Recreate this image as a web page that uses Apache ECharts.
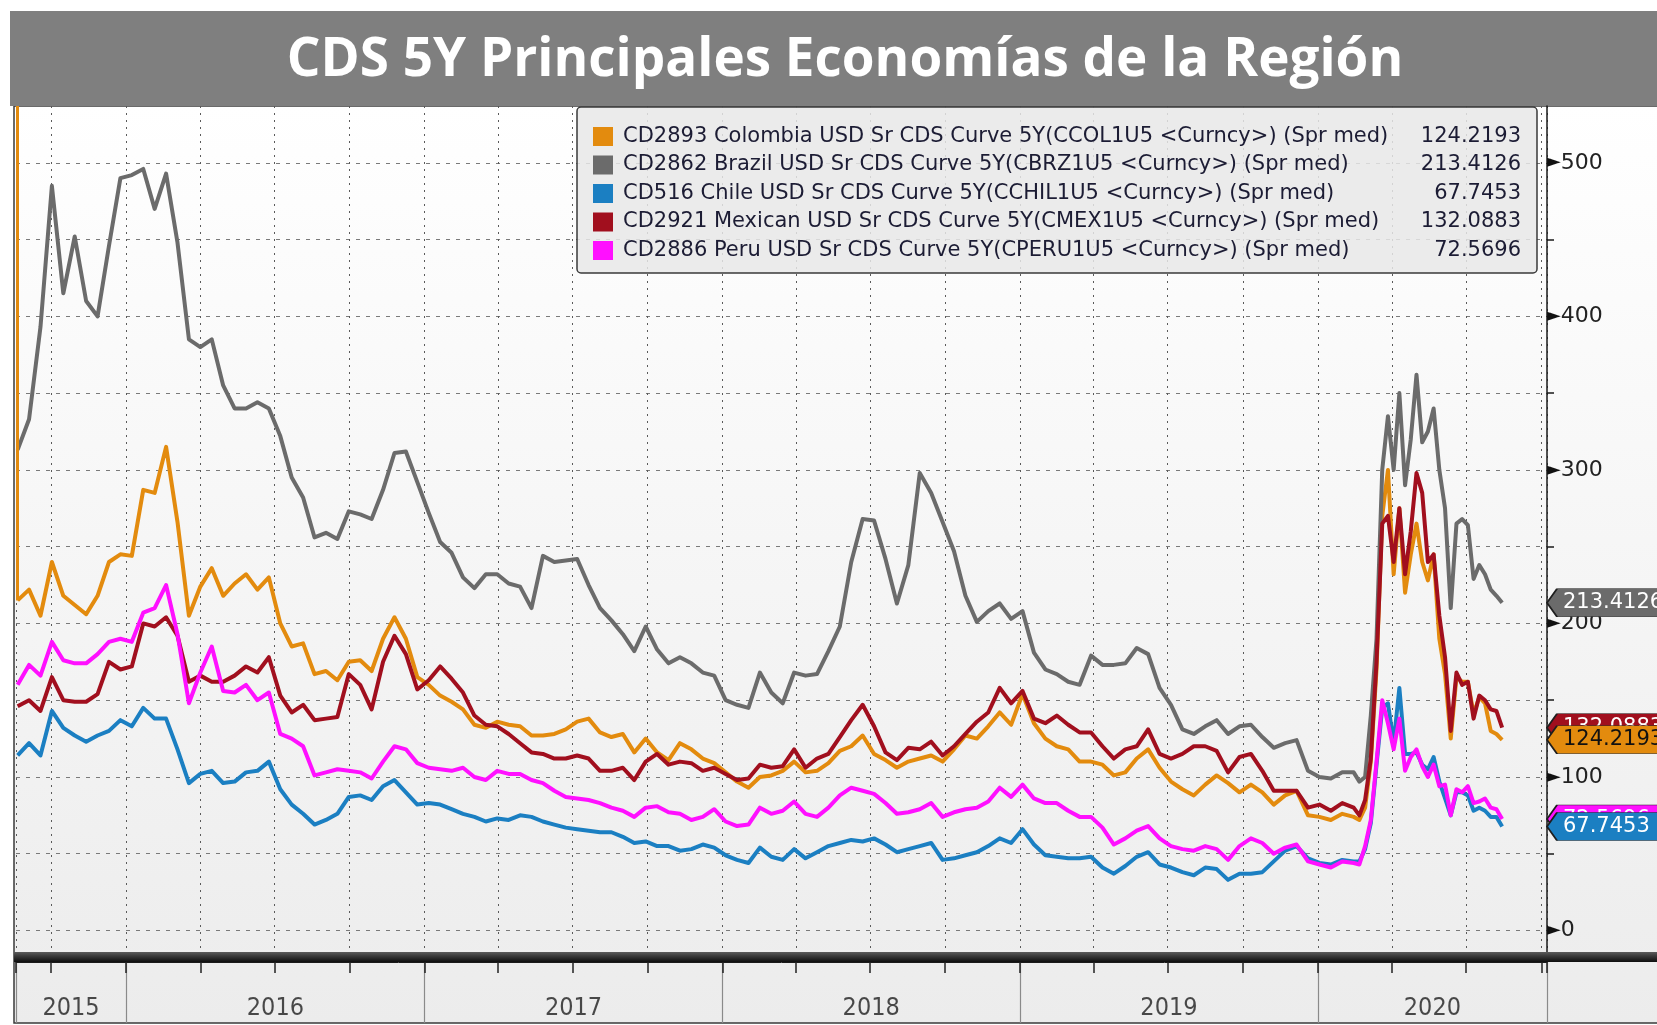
<!DOCTYPE html>
<html>
<head>
<meta charset="utf-8">
<title>CDS 5Y Principales Economías de la Región</title>
<script src="https://cdn.jsdelivr.net/npm/echarts@6/dist/echarts.min.js"></script>
<style>
  html, body { margin: 0; padding: 0; background: #ffffff; }
  #chart { width: 1657px; height: 1025px; }
</style>
</head>
<body>
<div id="chart"></div>
<script>
'use strict';

var DAY = 86400000;
var X_MIN = Date.UTC(2015, 7, 19);
var X_MAX = Date.UTC(2020, 9, 8);
var Y_MIN = -14;
var Y_MAX = 537;

// fechas: cada 2 semanas hasta feb-2020, luego semanal
var dates = [];
var t = Date.UTC(2015, 7, 21);
for (var i = 0; i < 118; i++) { dates.push(t); t += 14 * DAY; }
t = dates[117] + 7 * DAY;
for (var k = 0; k < 26; k++) { dates.push(t); t += 7 * DAY; }

var names = [
  'CD2893 Colombia USD Sr CDS Curve 5Y(CCOL1U5 <Curncy>) (Spr med)',
  'CD2862 Brazil USD Sr CDS Curve 5Y(CBRZ1U5 <Curncy>) (Spr med)',
  'CD516 Chile USD Sr CDS Curve 5Y(CCHIL1U5 <Curncy>) (Spr med)',
  'CD2921 Mexican USD Sr CDS Curve 5Y(CMEX1U5 <Curncy>) (Spr med)',
  'CD2886 Peru USD Sr CDS Curve 5Y(CPERU1U5 <Curncy>) (Spr med)'
];
var colors = ['#e38b0e', '#6b6b6b', '#1b7fc2', '#a10f1e', '#ff10ff'];

var colombia = [
  215, 222, 205, 240, 218, 212, 206, 218, 240, 245, 244, 287, 285, 315, 266, 205, 224, 236, 218, 226, 232, 222, 230,
  200, 185, 187, 167, 169, 163, 175, 176, 169, 190, 204, 190, 165, 160, 153, 149, 144, 134, 132, 136, 134, 133,
  127, 127, 128, 131, 136, 138, 129, 126, 128, 116, 125, 116, 111, 122, 118, 112, 109, 103, 97, 93, 100, 101,
  104, 110, 103, 104, 109, 117, 120, 127, 115, 111, 106, 110, 112, 114, 110, 118, 127, 125, 133, 142, 134, 154, 135,
  125, 120, 118, 110, 110, 108, 101, 103, 112, 118, 106, 97, 92, 88, 95, 101, 96, 90, 95, 90, 82, 88,
  91, 75, 74, 72, 76, 74,
  72, 80, 110, 170, 270, 300, 232, 275, 220, 245, 265, 240, 228, 245, 190, 167, 125, 165, 162, 162, 141, 152, 148, 130, 128, 124.2193
];
var brazil = [
  313, 333, 393, 485, 415, 452, 410, 400, 446, 490, 492, 496, 470, 493, 448, 385, 380, 385, 355, 340, 340, 344, 340,
  322, 295, 282, 256, 259, 255, 273, 271, 268, 287, 311, 312, 292, 272, 253, 246, 230, 223, 232, 232, 226, 224,
  210, 244, 240, 241, 242, 225, 210, 202, 193, 182, 198, 183, 174, 178, 174, 168, 166, 150, 147, 145, 168, 155,
  148, 168, 166, 167, 182, 198, 240, 268, 267, 242, 213, 238, 298, 285, 266, 247, 218, 201, 208, 213, 203, 208, 181,
  170, 167, 162, 160, 179, 173, 173, 174, 184, 180, 158, 147, 131, 128, 133, 137, 128, 133, 134, 126, 119, 122,
  124, 104, 100, 99, 103, 103,
  97, 100, 140, 190, 300, 335, 300, 350, 290, 320, 362, 318, 325, 340, 300, 275, 210, 265, 268, 264, 229, 238, 232, 222, 218, 213.4126
];
var chile = [
  114, 122, 114, 143, 132, 127, 123, 127, 130, 137, 133, 145, 138, 138, 118, 96, 102, 104, 96, 97, 103, 104, 110,
  92, 82, 76, 69, 72, 76, 87, 88, 85, 94, 98, 90, 82, 83, 82, 79, 76, 74, 71, 73, 72, 75,
  74, 71, 69, 67, 66, 65, 64, 64, 61, 57, 58, 55, 55, 52, 53, 56, 54, 49, 46, 44, 54, 48,
  46, 53, 47, 51, 55, 57, 59, 58, 60, 56, 51, 53, 55, 57, 46, 47, 49, 51, 55, 60, 57, 66, 56,
  49, 48, 47, 47, 48, 41, 37, 42, 48, 51, 43, 41, 38, 36, 41, 40, 33, 37, 37, 38, 45, 52,
  55, 47, 44, 43, 46, 45,
  45, 53, 70, 108, 145, 148, 122, 158, 115, 115, 116, 108, 105, 113, 97, 86, 75, 90, 90, 88, 78, 80, 78, 74, 74, 67.7453
];
var mexico = [
  146, 150, 143, 165, 150, 149, 149, 154, 175, 170, 172, 200, 198, 204, 192, 162, 166, 162, 162, 166, 172, 168, 178,
  153, 142, 147, 137, 138, 139, 167, 160, 144, 175, 192, 180, 157, 163, 172, 164, 155, 140, 134, 133, 128, 122,
  116, 115, 112, 112, 114, 112, 104, 104, 106, 98, 110, 115, 108, 110, 109, 104, 106, 102, 98, 99, 108, 106,
  107, 118, 106, 112, 115, 126, 137, 147, 133, 116, 111, 119, 118, 123, 114, 120, 128, 136, 142, 158, 148, 156, 138,
  135, 140, 134, 129, 129, 120, 112, 118, 120, 131, 115, 112, 115, 120, 120, 117, 103, 113, 115, 104, 91, 91,
  91, 80, 82, 78, 83, 80,
  75, 85, 112, 175, 265, 270, 240, 275, 232, 260, 298, 285, 240, 245, 205, 178, 130, 168, 160, 162, 138, 153, 150, 144, 143, 132.0883
];
var peru = [
  160, 173, 166, 188, 176, 174, 174, 180, 188, 190, 188, 207, 210, 225, 193, 148, 168, 185, 156, 155, 160, 150, 155,
  128, 125, 120, 101, 103, 105, 104, 103, 99, 110, 120, 118, 109, 106, 105, 104, 106, 100, 98, 104, 102, 102,
  98, 96, 91, 87, 86, 85, 83, 80, 78, 74, 80, 81, 77, 76, 72, 74, 79, 71, 68, 69, 80, 76,
  78, 84, 76, 74, 80, 88, 93, 91, 89, 83, 76, 77, 79, 83, 74, 77, 79, 80, 84, 93, 87, 95, 86,
  83, 83, 78, 74, 74, 67, 56, 60, 65, 68, 60, 55, 53, 52, 55, 53, 46, 55, 60, 57, 50, 54,
  56, 45, 43, 41, 45, 44,
  43, 55, 72, 110, 150, 135, 118, 138, 104, 113, 118, 107, 100, 108, 94, 95, 75, 92, 90, 94, 83, 84, 86, 80, 79, 72.5696
];

var yTicks = [0, 50, 100, 150, 200, 250, 300, 350, 400, 450, 500];
var yLabels = [0, 100, 200, 300, 400, 500];
var years = ['2015', '2016', '2017', '2018', '2019', '2020'];

var seriesValues = [colombia, brazil, chile, mexico, peru];
var tagTextColor = ['#111111', '#ffffff', '#ffffff', '#ffffff', '#ffffff'];
var tagZ = [9, 9, 9, 8, 8];
var TAG = 'path://M0,14L10,0L130,0L130,28L10,28Z';

function lastOf(arr) { return arr[arr.length - 1]; }

// etiquetas de año centradas en el tramo visible de cada año
var yearMid = years.map(function (y) {
  var a = Math.max(Date.UTC(+y, 0, 1), X_MIN);
  var b = Math.min(Date.UTC(+y + 1, 0, 1), X_MAX);
  return [(a + b) / 2, 0.23];
});

var chartDom = document.getElementById('chart');
var myChart = echarts.init(chartDom, null, {renderer: 'canvas'});

var series = names.map(function (name, idx) {
  var vals = seriesValues[idx];
  var s = {
    name: name,
    type: 'line',
    xAxisIndex: 0,
    yAxisIndex: 0,
    showSymbol: false,
    symbol: 'none',
    color: colors[idx],
    lineStyle: {width: 4, color: colors[idx], join: 'round'},
    data: dates.map(function (d, i) { return [d, vals[i]]; }),
    markPoint: {
      silent: true,
      z: tagZ[idx],
      symbol: TAG,
      symbolSize: [130, 28],
      symbolOffset: [65, 0],
      symbolKeepAspect: false,
      itemStyle: {color: colors[idx], borderColor: '#1e1e1e', borderWidth: 1},
      label: {
        show: true,
        position: 'insideLeft',
        distance: 17,
        color: tagTextColor[idx],
        fontFamily: 'DejaVu Sans',
        fontSize: 21,
        formatter: lastOf(vals).toFixed(4)
      },
      data: [{coord: [X_MAX, lastOf(vals)]}]
    }
  };
  if (idx === 0) {
    s.markLine = {
      silent: true,
      symbol: ['none', 'none'],
      label: {show: false},
      lineStyle: {color: colors[0], width: 3, type: 'solid'},
      data: [[{coord: [dates[0], vals[0]]}, {coord: [dates[0], Y_MAX]}]]
    };
  }
  return s;
});

series.push({
  type: 'scatter',
  xAxisIndex: 1,
  yAxisIndex: 1,
  silent: true,
  symbolSize: 1,
  itemStyle: {color: 'rgba(0,0,0,0)'},
  label: {
    show: true,
    position: 'inside',
    color: '#1e1e1e',
    fontFamily: "'DejaVu Sans Condensed', sans-serif",
    fontSize: 25,
    formatter: function (p) { return years[p.dataIndex]; }
  },
  data: yearMid
});

var option = {
  animation: false,
  title: {
    text: 'CDS 5Y Principales Economías de la Región',
    left: 840,
    textAlign: 'center',
    top: 29,
    textStyle: {
      color: '#ffffff',
      fontFamily: "'Open Sans', sans-serif",
      fontWeight: 'bold',
      fontSize: 53
    }
  },
  graphic: [
    {
      type: 'rect', z: -10, silent: true,
      shape: {x: 14, y: 106, width: 1650, height: 917},
      style: {
        fill: new echarts.graphic.LinearGradient(0, 0, 0, 1, [
          {offset: 0, color: '#ffffff'},
          {offset: 1, color: '#ececec'}
        ]),
        stroke: '#3a3a3a',
        lineWidth: 1.5
      }
    },
    {
      type: 'rect', z: -9, silent: true,
      shape: {x: 10, y: 11, width: 1650, height: 95},
      style: {fill: '#7f7f7f'}
    },
    {
      type: 'rect', z: 10, silent: true,
      shape: {x: 14, y: 952, width: 1650, height: 10},
      style: {
        fill: new echarts.graphic.LinearGradient(0, 0, 0, 1, [
          {offset: 0, color: '#5c5c5c'},
          {offset: 0.4, color: '#3a3a3a'},
          {offset: 1, color: '#0e0e0e'}
        ])
      }
    }
  ],
  legend: {
    orient: 'vertical',
    left: 577,
    top: 107,
    padding: [19, 16, 12, 16],
    itemGap: 7.5,
    itemWidth: 20,
    itemHeight: 19,
    icon: 'rect',
    selectedMode: false,
    backgroundColor: 'rgba(232,232,232,0.85)',
    borderColor: '#3a3a3a',
    borderWidth: 1.5,
    borderRadius: 4,
    data: names,
    formatter: function (name) {
      var v = lastOf(seriesValues[names.indexOf(name)]);
      return '{n|' + name + '}{v|' + v.toFixed(4) + '}';
    },
    textStyle: {
      color: '#1c1c34',
      fontFamily: 'DejaVu Sans',
      fontSize: 21,
      lineHeight: 19,
      rich: {
        n: {width: 795, padding: [0, 0, 0, 5], fontSize: 21, lineHeight: 19, fontFamily: 'DejaVu Sans', color: '#1c1c34'},
        v: {width: 103, align: 'right', fontSize: 21, lineHeight: 19, fontFamily: 'DejaVu Sans', color: '#1c1c34'}
      }
    }
  },
  grid: [
    {left: 16, right: 110, top: 106, bottom: 73},
    {left: 16, right: 110, top: 962, bottom: 2}
  ],
  xAxis: [
    {
      type: 'time', gridIndex: 0, min: X_MIN, max: X_MAX, splitNumber: 20,
      axisLine: {show: false}, axisTick: {show: false}, axisLabel: {show: false},
      splitLine: {show: true, lineStyle: {color: '#5a5a5a', type: [2, 5], width: 1}}
    },
    {
      type: 'time', gridIndex: 1, position: 'top', min: X_MIN, max: X_MAX, splitNumber: 20,
      axisLine: {show: true, onZero: false, lineStyle: {color: '#1a1a1a', width: 1}},
      axisTick: {show: true, inside: true, length: 11, lineStyle: {color: '#222', width: 1.5}},
      axisLabel: {show: false},
      splitLine: {show: false}
    },
    {
      type: 'time', gridIndex: 1, min: X_MIN, max: X_MAX, splitNumber: 5,
      axisLine: {show: false, onZero: false}, axisTick: {show: false}, axisLabel: {show: false},
      splitLine: {show: true, lineStyle: {color: '#8a8a8a', width: 1.2, type: 'solid'}}
    }
  ],
  yAxis: [
    {
      type: 'value', gridIndex: 0, position: 'right', min: Y_MIN, max: Y_MAX,
      axisLine: {show: true, onZero: false, lineStyle: {color: '#1a1a1a', width: 1.5}},
      axisTick: {show: true, customValues: yTicks, length: 7, lineStyle: {color: '#1a1a1a', width: 1.5}},
      axisLabel: {
        customValues: yLabels,
        margin: 0,
        formatter: function (v) { return '{t|►}{n|' + v + '}'; },
        rich: {
          t: {fontSize: 18, color: '#111', fontFamily: 'DejaVu Sans'},
          n: {fontSize: 22, color: '#222', fontFamily: 'DejaVu Sans'}
        }
      },
      splitLine: {show: true, lineStyle: {color: '#7a7a7a', type: [4, 6], width: 1}}
    },
    {type: 'value', gridIndex: 1, min: 0, max: 1, show: false}
  ],
  series: series
};

myChart.setOption(option);
</script>
</body>
</html>
